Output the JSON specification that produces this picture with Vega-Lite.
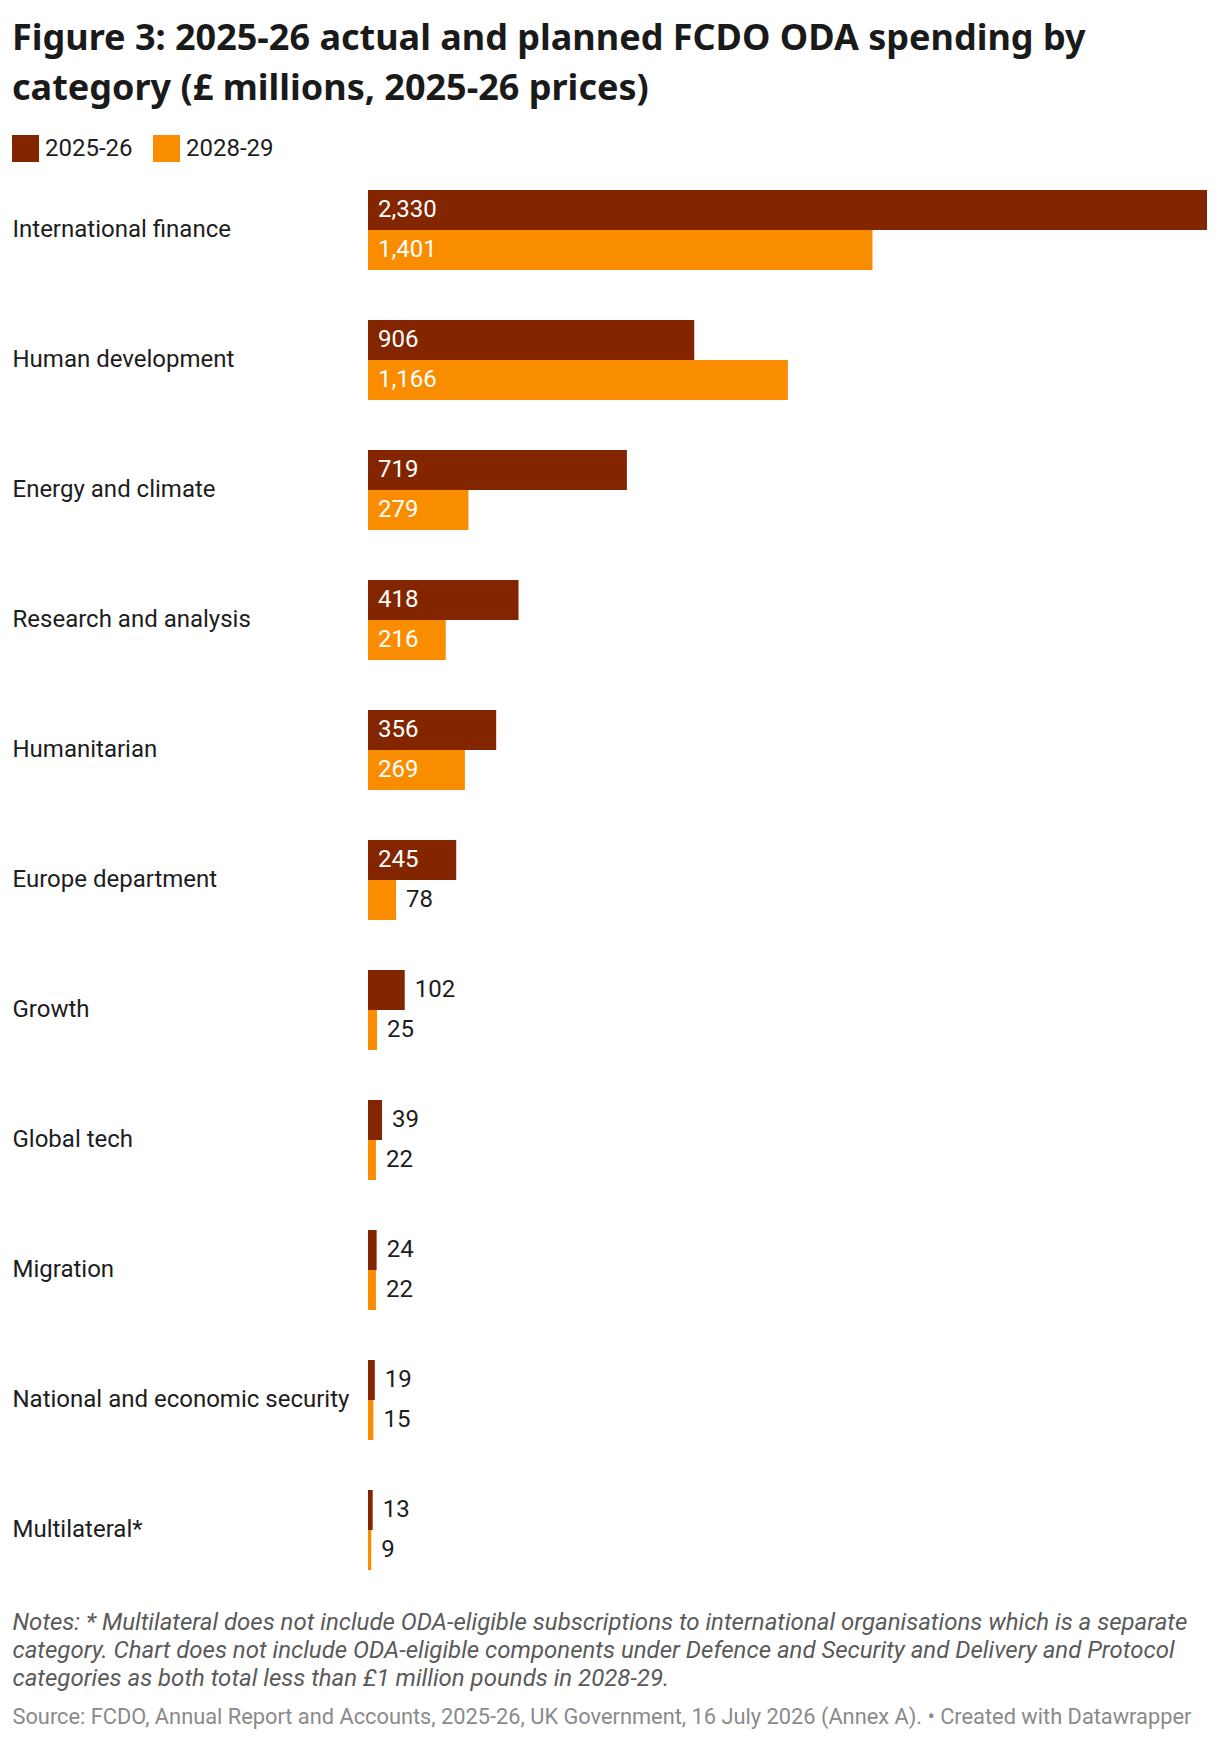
{
  "$schema": "https://vega.github.io/schema/vega-lite/v6.json",
  "autosize": "none",
  "width": 839,
  "height": 1380,
  "padding": {"left": 368, "top": 190, "right": 13, "bottom": 170},
  "background": "white",
  "title": {
    "text": ["Figure 3: 2025-26 actual and planned FCDO ODA spending by", "category (£ millions, 2025-26 prices)"],
    "anchor": "start",
    "frame": "group",
    "dx": -356,
    "offset": 27,
    "font": "Noto Sans",
    "fontSize": 36,
    "fontWeight": "bold",
    "color": "#1a1a1a",
    "lineHeight": 50
  },
  "data": {
    "values": [
      {"category": "International finance", "series": "2025-26", "value": 2330},
      {"category": "International finance", "series": "2028-29", "value": 1401},
      {"category": "Human development", "series": "2025-26", "value": 906},
      {"category": "Human development", "series": "2028-29", "value": 1166},
      {"category": "Energy and climate", "series": "2025-26", "value": 719},
      {"category": "Energy and climate", "series": "2028-29", "value": 279},
      {"category": "Research and analysis", "series": "2025-26", "value": 418},
      {"category": "Research and analysis", "series": "2028-29", "value": 216},
      {"category": "Humanitarian", "series": "2025-26", "value": 356},
      {"category": "Humanitarian", "series": "2028-29", "value": 269},
      {"category": "Europe department", "series": "2025-26", "value": 245},
      {"category": "Europe department", "series": "2028-29", "value": 78},
      {"category": "Growth", "series": "2025-26", "value": 102},
      {"category": "Growth", "series": "2028-29", "value": 25},
      {"category": "Global tech", "series": "2025-26", "value": 39},
      {"category": "Global tech", "series": "2028-29", "value": 22},
      {"category": "Migration", "series": "2025-26", "value": 24},
      {"category": "Migration", "series": "2028-29", "value": 22},
      {"category": "National and economic security", "series": "2025-26", "value": 19},
      {"category": "National and economic security", "series": "2028-29", "value": 15},
      {"category": "Multilateral*", "series": "2025-26", "value": 13},
      {"category": "Multilateral*", "series": "2028-29", "value": 9}
    ]
  },
  "encoding": {
    "y": {
      "field": "category",
      "type": "nominal",
      "sort": null,
      "scale": {"paddingInner": 0.3846, "paddingOuter": 0},
      "axis": {
        "domain": false,
        "ticks": false,
        "tickSize": 0,
        "grid": false,
        "labelAlign": "left",
        "labelPadding": 356,
        "labelLimit": 400,
        "labelFont": "Roboto",
        "labelFontSize": 24,
        "labelColor": "#1d1d1d",
        "title": "Source: FCDO, Annual Report and Accounts, 2025-26, UK Government, 16 July 2026 (Annex A). • Created with Datawrapper",
        "titleAngle": 0,
        "titleX": -356,
        "titleY": 1526,
        "titleAlign": "left",
        "titleBaseline": "middle",
        "titleFont": "Roboto",
        "titleFontSize": 21.8,
        "titleFontWeight": "normal",
        "titleColor": "#8a8a8a"
      }
    },
    "yOffset": {
      "field": "series",
      "type": "nominal",
      "scale": {"paddingInner": 0, "paddingOuter": 0}
    },
    "x": {
      "field": "value",
      "type": "quantitative",
      "scale": {"domain": [0, 2330], "nice": false, "zero": true},
      "axis": {
        "labels": false,
        "ticks": false,
        "domain": false,
        "grid": false,
        "title": ["Notes: * Multilateral does not include ODA-eligible subscriptions to international organisations which is a separate", "category. Chart does not include ODA-eligible components under Defence and Security and Delivery and Protocol", "categories as both total less than £1 million pounds in 2028-29."],
        "titleX": -356,
        "titleY": 40,
        "titleAlign": "left",
        "titleBaseline": "top",
        "titleFont": "Roboto",
        "titleFontSize": 24,
        "titleFontStyle": "italic",
        "titleFontWeight": "normal",
        "titleColor": "#5a5a5a",
        "titleLineHeight": 28
      }
    }
  },
  "layer": [
    {
      "mark": {"type": "bar"},
      "encoding": {
        "color": {
          "field": "series",
          "type": "nominal",
          "scale": {"domain": ["2025-26", "2028-29"], "range": ["#832600", "#fa8c00"]},
          "legend": {
            "orient": "none",
            "legendX": -356,
            "legendY": -55,
            "direction": "horizontal",
            "title": null,
            "symbolType": "square",
            "symbolSize": 729,
            "symbolStrokeWidth": 0,
            "symbolOpacity": 1,
            "labelFont": "Roboto",
            "labelFontSize": 24,
            "labelColor": "#1d1d1d",
            "labelOffset": 6,
            "columnPadding": 20
          }
        }
      }
    },
    {
      "transform": [{"filter": "datum.value >= 200"}],
      "mark": {"type": "text", "align": "left", "baseline": "middle", "dx": 10, "font": "Roboto", "fontSize": 24, "color": "white"},
      "encoding": {
        "x": {"datum": 0, "type": "quantitative"},
        "text": {"field": "value", "type": "quantitative", "format": ",.0f"}
      }
    },
    {
      "transform": [{"filter": "datum.value < 200"}],
      "mark": {"type": "text", "align": "left", "baseline": "middle", "dx": 10, "font": "Roboto", "fontSize": 24, "color": "#1d1d1d"},
      "encoding": {
        "text": {"field": "value", "type": "quantitative", "format": ",.0f"}
      }
    }
  ],
  "config": {
    "view": {"stroke": null}
  }
}
